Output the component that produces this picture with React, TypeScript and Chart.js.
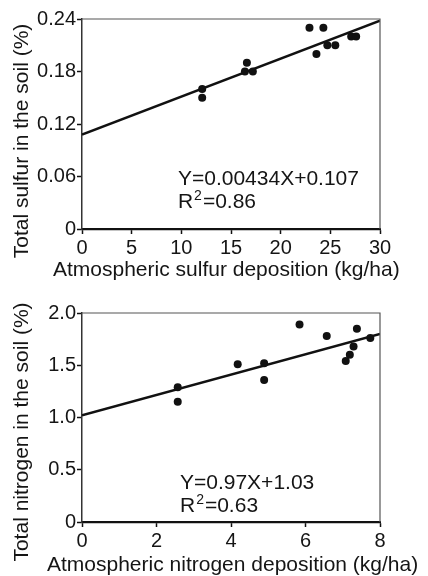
import React, { useEffect, useRef } from 'react';
import { Chart, registerables } from 'chart.js';

Chart.register(...registerables);

const FONT = '"Liberation Sans", Arial, Helvetica, sans-serif';
const INK = '#151515';

// ---- Sulfur panel data ----
const sulfurX = [12.1, 12.1, 16.4, 16.6, 17.2, 22.9, 23.6, 24.3, 24.7, 25.5, 27.1, 27.6];
const sulfurY = [0.16, 0.15, 0.18, 0.19, 0.18, 0.23, 0.20, 0.23, 0.21, 0.21, 0.22, 0.22];
const sulfurFitX = [0, 30];
const sulfurFitY = [0.108, 0.238];
const sulfurXTicks = ['0', '5', '10', '15', '20', '25', '30'];
const sulfurYTicks = ['0', '0.06', '0.12', '0.18', '0.24'];
const sulfurEquation = 'Y=0.00434X+0.107';
const sulfurR2 = '=0.86';
const sulfurXTitle = 'Atmospheric sulfur deposition (kg/ha)';
const sulfurYTitle = 'Total sulfur in the soil (%)';

// ---- Nitrogen panel data ----
const nitrogenX = [2.57, 2.57, 4.18, 4.89, 4.89, 5.84, 6.57, 7.08, 7.19, 7.29, 7.38, 7.74];
const nitrogenY = [1.29, 1.15, 1.51, 1.52, 1.36, 1.89, 1.78, 1.54, 1.60, 1.68, 1.85, 1.76];
const nitrogenFitX = [0, 8];
const nitrogenFitY = [1.02, 1.80];
const nitrogenXTicks = ['0', '2', '4', '6', '8'];
const nitrogenYTicks = ['0', '0.5', '1.0', '1.5', '2.0'];
const nitrogenEquation = 'Y=0.97X+1.03';
const nitrogenR2 = '=0.63';
const nitrogenXTitle = 'Atmospheric nitrogen deposition (kg/ha)';
const nitrogenYTitle = 'Total nitrogen in the soil (%)';

type PanelProps = {
  top: number;
  height: number;
  padTop: number;
  xAxisHeight: number;
  xs: number[];
  ys: number[];
  fitX: number[];
  fitY: number[];
  xTicks: string[];
  yTicks: string[];
  xMax: number;
  xStep: number;
  yMax: number;
  yStep: number;
  equation: string;
  r2: string;
  eqX: number;
  eqY1: number;
  eqY2: number;
  xTitle: string;
  yTitle: string;
  xTitleLeft: number;
  xTitleY: number;
  yTitleCenter: number;
};

function Panel(p: PanelProps) {
  const ref = useRef<HTMLCanvasElement | null>(null);

  useEffect(() => {
    if (!ref.current) return;
    const decor = {
      id: 'decor',
      afterDraw(chart: any) {
        const { ctx, chartArea: a, scales } = chart;
        ctx.save();
        // top and right frame lines
        ctx.strokeStyle = '#555';
        ctx.lineWidth = 1.2;
        ctx.beginPath();
        ctx.moveTo(a.left, a.top);
        ctx.lineTo(a.right, a.top);
        ctx.lineTo(a.right, a.bottom);
        ctx.stroke();

        // equation
        ctx.fillStyle = INK;
        ctx.textAlign = 'left';
        ctx.textBaseline = 'middle';
        const ex = scales.x.getPixelForValue(p.eqX);
        const ey1 = scales.y.getPixelForValue(p.eqY1);
        const ey2 = scales.y.getPixelForValue(p.eqY2);
        ctx.font = `21px ${FONT}`;
        ctx.fillText(p.equation, ex, ey1);
        ctx.fillText('R', ex, ey2);
        let w = ctx.measureText('R').width + 1;
        ctx.font = `14px ${FONT}`;
        ctx.fillText('2', ex + w, ey2 - 6);
        w += ctx.measureText('2').width + 1;
        ctx.font = `21px ${FONT}`;
        ctx.fillText(p.r2, ex + w, ey2);

        // x title
        ctx.font = `21px ${FONT}`;
        ctx.fillText(p.xTitle, p.xTitleLeft, p.xTitleY);

        // y title
        ctx.translate(22, p.yTitleCenter);
        ctx.rotate(-Math.PI / 2);
        ctx.textAlign = 'center';
        ctx.fillText(p.yTitle, 0, 0);
        ctx.restore();
      },
    };

    const chart = new Chart(ref.current, {
      type: 'scatter',
      data: {
        datasets: [
          {
            data: p.xs.map((x, i) => ({ x, y: p.ys[i] })),
            backgroundColor: '#111',
            borderColor: '#111',
            pointRadius: 4,
            pointBorderWidth: 0,
            showLine: false,
          },
          {
            data: p.fitX.map((x, i) => ({ x, y: p.fitY[i] })),
            borderColor: '#111',
            borderWidth: 2.5,
            pointRadius: 0,
            showLine: true,
          },
        ],
      },
      options: {
        animation: false,
        responsive: false,
        events: [],
        layout: { padding: { top: p.padTop, right: 48, left: 0, bottom: 0 } },
        plugins: { legend: { display: false }, tooltip: { enabled: false } },
        scales: {
          x: {
            type: 'linear',
            min: 0,
            max: p.xMax,
            afterFit: (s: any) => {
              s.height = p.xAxisHeight;
            },
            ticks: {
              stepSize: p.xStep,
              color: INK,
              padding: 2,
              font: { family: FONT, size: 20 },
              maxRotation: 0,
              autoSkip: false,
              callback: (_v: any, i: number) => p.xTicks[i],
            },
            grid: {
              drawOnChartArea: false,
              drawTicks: true,
              tickLength: 5,
              tickColor: '#111',
              tickWidth: 1.5,
            },
            border: { color: '#111', width: 2.2 },
          },
          y: {
            type: 'linear',
            min: 0,
            max: p.yMax,
            afterFit: (s: any) => {
              s.width = 82;
            },
            ticks: {
              stepSize: p.yStep,
              color: INK,
              padding: 1,
              font: { family: FONT, size: 20 },
              autoSkip: false,
              callback: (_v: any, i: number) => p.yTicks[i],
            },
            grid: {
              drawOnChartArea: false,
              drawTicks: true,
              tickLength: 5,
              tickColor: '#111',
              tickWidth: 1.5,
            },
            border: { color: '#333', width: 1.5 },
          },
        },
      },
      plugins: [decor],
    } as any);

    return () => chart.destroy();
  }, []);

  return (
    <div style={{ position: 'absolute', left: 0, top: p.top, width: 428, height: p.height }}>
      <canvas ref={ref} width={428} height={p.height} style={{ width: 428, height: p.height, display: 'block' }} />
    </div>
  );
}

export default function App() {
  return (
    <div style={{ position: 'absolute', left: 0, top: 0, width: 428, height: 576, background: '#fff' }}>
      <Panel
        top={0}
        height={290}
        padTop={19}
        xAxisHeight={61}
        xs={sulfurX}
        ys={sulfurY}
        fitX={sulfurFitX}
        fitY={sulfurFitY}
        xTicks={sulfurXTicks}
        yTicks={sulfurYTicks}
        xMax={30}
        xStep={5}
        yMax={0.24}
        yStep={0.06}
        equation={sulfurEquation}
        r2={sulfurR2}
        eqX={9.66}
        eqY1={0.0566}
        eqY2={0.0303}
        xTitle={sulfurXTitle}
        yTitle={sulfurYTitle}
        xTitleLeft={53}
        xTitleY={270}
        yTitleCenter={141}
      />
      <Panel
        top={290}
        height={286}
        padTop={23}
        xAxisHeight={54}
        xs={nitrogenX}
        ys={nitrogenY}
        fitX={nitrogenFitX}
        fitY={nitrogenFitY}
        xTicks={nitrogenXTicks}
        yTicks={nitrogenYTicks}
        xMax={8}
        xStep={2}
        yMax={2}
        yStep={0.5}
        equation={nitrogenEquation}
        r2={nitrogenR2}
        eqX={2.63}
        eqY1={0.368}
        eqY2={0.153}
        xTitle={nitrogenXTitle}
        yTitle={nitrogenYTitle}
        xTitleLeft={47}
        xTitleY={275}
        yTitleCenter={142}
      />
    </div>
  );
}
